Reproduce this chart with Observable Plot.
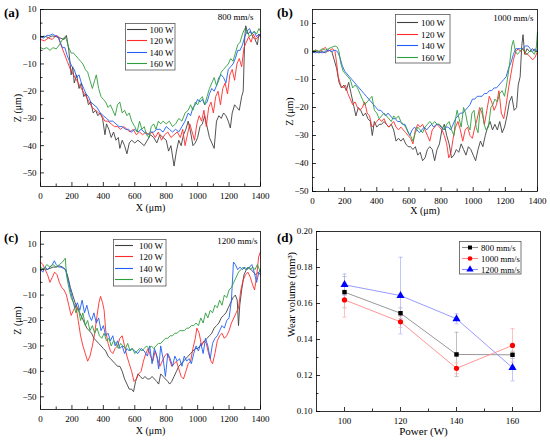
<!DOCTYPE html>
<html>
<head>
<meta charset="utf-8">
<script src="https://cdn.jsdelivr.net/npm/d3@7"></script>
<script src="https://cdn.jsdelivr.net/npm/@observablehq/plot@0.6"></script>
<style>
  body { margin: 0; background: #fff; }
  #fig { position: relative; width: 550px; height: 445px; background: #fff; font-family: 'Liberation Serif', 'Times New Roman', serif; overflow: hidden; }
  .panel { position: absolute; }
  .tag { position: absolute; font-weight: bold; font-size: 13px; line-height: 1; }
  .leg { position: absolute; }
</style>
</head>
<body>
<div id="fig">
  <div class="panel" id="pa" style="left:0;top:0"></div>
  <div class="panel" id="pb" style="left:275px;top:0"></div>
  <div class="panel" id="pc" style="left:0;top:222px"></div>
  <div class="panel" id="pd" style="left:275px;top:222px"></div>
  <div class="tag" style="left:4px;top:6px">(a)</div>
  <div class="tag" style="left:277px;top:6px">(b)</div>
  <div class="tag" style="left:4px;top:231px">(c)</div>
  <div class="tag" style="left:277px;top:231px">(d)</div>
</div>
<script>
// ---------- data ----------
const powerLabels = ["100 W", "120 W", "140 W", "160 W"];
const xMajor = [0, 200, 400, 600, 800, 1000, 1200, 1400];
const xMinor = [100, 300, 500, 700, 900, 1100, 1300];
const zMajor = [-50, -40, -30, -20, -10, 0, 10];
const zMinor = [-55, -45, -35, -25, -15, -5, 5, 15];

// (a) 800 mm/s  [X µm, Z µm]
const a100 = [[0,0],[25,0.2],[50,-0.3],[75,0.3],[100,0],[125,-0.5],[150,-1],[165,0.5],[180,-5],[195,-14],[205,-11],[215,-17],[230,-14],[245,-19],[260,-17],[275,-22],[290,-21],[305,-25],[320,-24],[335,-28],[350,-27],[365,-29],[380,-28],[395,-30],[410,-36],[420,-32],[435,-34],[450,-37],[465,-35],[480,-38],[495,-37],[505,-41],[520,-38],[535,-40],[550,-43],[565,-39],[580,-38],[600,-39],[620,-38],[640,-39],[660,-40],[680,-38],[700,-36],[720,-37],[740,-39],[760,-36],[780,-37],[800,-38],[815,-42],[830,-40],[850,-47.5],[865,-42],[880,-38],[895,-40],[910,-36],[925,-34],[940,-31],[955,-35],[970,-40],[985,-39],[1000,-37],[1015,-33],[1030,-32],[1045,-29],[1060,-33],[1075,-37],[1090,-39],[1105,-41],[1120,-31],[1135,-29],[1150,-30],[1165,-28],[1180,-29],[1195,-31],[1208,-33.5],[1220,-28],[1235,-25],[1250,-26],[1265,-27],[1280,-22],[1290,-20],[1300,0],[1306,4],[1320,1],[1335,2],[1350,0],[1365,-1],[1380,-3],[1390,1],[1400,0]];
const a120 = [[0,-1],[25,-1.5],[50,-0.5],[75,-1],[100,0.5],[115,0],[130,-3],[150,-6],[170,-9],[190,-12],[210,-14],[230,-16],[250,-18],[270,-20],[290,-22],[310,-24],[330,-26],[350,-27],[370,-28],[390,-29],[410,-31],[430,-31],[450,-32],[470,-33],[490,-33],[510,-34],[530,-33],[550,-34],[570,-35],[590,-34],[610,-36],[630,-35],[650,-36],[670,-35],[690,-36],[710,-35],[730,-37],[750,-35],[770,-38],[790,-36],[810,-35],[830,-37],[850,-36],[870,-35],[890,-37],[905,-34],[920,-40],[935,-36],[950,-32],[965,-35],[980,-38],[995,-32],[1010,-29],[1025,-31],[1040,-27],[1055,-33],[1070,-26],[1085,-24],[1100,-28],[1115,-22],[1130,-20],[1145,-25],[1160,-19],[1175,-17],[1190,-21],[1205,-14],[1220,-12],[1235,-16],[1250,-10],[1265,-8],[1280,-11],[1295,-4],[1310,-2],[1325,0],[1340,-2],[1355,1],[1370,-1],[1385,0],[1400,1]];
const a140 = [[0,0],[20,-0.5],[40,0.5],[60,0.5],[75,1],[90,0.5],[110,0],[125,-2],[140,-4],[155,-4],[170,-7],[185,-9],[200,-11],[215,-12],[230,-15],[245,-14],[260,-17],[275,-19],[290,-21],[305,-22],[320,-24],[340,-25],[360,-26],[380,-28],[400,-29],[420,-30],[440,-31],[460,-31],[480,-32],[500,-33],[520,-33],[540,-34],[560,-34],[580,-35],[600,-34],[620,-35],[640,-34],[660,-35],[680,-36],[700,-35],[720,-35],[740,-34],[760,-34],[780,-35],[800,-33],[820,-34],[840,-35],[860,-34],[880,-35],[900,-33],[920,-31],[940,-28],[955,-29],[970,-26],[985,-25],[1000,-23],[1015,-24],[1030,-23],[1045,-25],[1060,-24],[1075,-21],[1090,-19],[1105,-20],[1120,-18],[1135,-15],[1150,-14],[1165,-15],[1180,-17],[1195,-12],[1210,-11],[1225,-10],[1240,-8],[1255,-5],[1270,-5],[1285,-3],[1300,0],[1315,2],[1330,3],[1345,1],[1360,2],[1375,0],[1390,1],[1400,0]];
const a160 = [[0,-4],[20,-4.5],[40,-4],[60,-5],[80,-4],[100,-4.5],[120,-3],[140,-1],[155,0],[165,-1],[180,-4],[195,-6],[210,-6],[225,-7],[240,-8],[255,-9],[270,-10],[285,-12],[300,-13],[315,-16],[330,-19],[345,-16],[355,-14],[370,-19],[385,-22],[400,-23],[415,-24],[430,-26],[445,-25],[460,-27],[475,-29],[490,-25],[505,-24],[520,-28],[535,-27],[550,-29],[565,-28],[580,-31],[600,-33],[615,-35],[630,-31],[645,-34],[660,-33],[675,-36],[690,-37],[705,-33],[720,-32],[735,-34],[750,-31],[765,-32],[780,-31],[800,-32],[820,-31],[840,-33],[860,-32],[880,-30],[900,-31],[920,-28],[940,-27],[955,-25],[970,-27],[985,-24],[1000,-25],[1015,-23],[1030,-22],[1045,-25],[1060,-22],[1075,-19],[1090,-17],[1105,-15],[1120,-18],[1135,-16],[1150,-13],[1165,-12],[1180,-11],[1195,-10],[1210,-8],[1225,-9],[1240,-6],[1255,-3],[1270,-2],[1285,1],[1300,3],[1315,2],[1330,0],[1345,1],[1360,2],[1375,1],[1390,3],[1400,2]];

// (b) 1000 mm/s
const b100 = [[0,-0.5],[20,0],[40,-0.5],[60,0],[80,-0.5],[100,0.5],[120,0],[135,-3],[150,-6],[165,-11],[180,-13],[195,-12],[210,-14],[225,-11],[240,-15],[255,-19],[270,-23],[285,-20],[300,-21],[315,-23],[330,-22],[345,-24],[360,-25],[372,-30],[385,-25],[400,-27],[415,-26],[430,-26],[445,-25],[460,-26],[475,-27],[490,-26],[505,-28],[520,-32],[535,-31],[550,-32],[565,-31],[580,-33],[595,-34],[610,-34],[625,-35],[640,-34],[655,-37],[670,-36],[685,-39],[700,-38],[715,-35],[730,-34],[745,-35],[760,-39],[775,-35],[790,-33],[805,-28],[820,-26],[835,-30],[850,-33],[865,-38],[880,-37],[895,-35],[910,-36],[925,-33],[940,-35],[955,-37],[970,-34],[985,-35],[1000,-37],[1015,-39],[1030,-35],[1045,-32],[1060,-34],[1075,-30],[1090,-27],[1105,-25],[1120,-28],[1135,-26],[1150,-28],[1165,-25],[1180,-29],[1195,-27],[1210,-23],[1225,-18],[1240,-16],[1255,-21],[1270,-20],[1280,-12],[1292,-9],[1302,2],[1310,6],[1320,-1],[1335,1],[1350,0],[1370,1],[1385,0],[1400,0]];
const b120 = [[0,0],[20,0.5],[40,0],[60,0.5],[80,1.5],[95,0],[110,0.5],[125,1],[140,0],[150,-4],[160,-9],[175,-12],[190,-13],[205,-12],[220,-15],[235,-17],[250,-19],[265,-18],[280,-20],[295,-21],[310,-20],[325,-18],[340,-22],[355,-23],[370,-27],[385,-26],[400,-25],[415,-24],[430,-25],[445,-24],[460,-26],[475,-27],[490,-26],[505,-25],[520,-27],[535,-28],[550,-27],[565,-28],[580,-29],[595,-30],[610,-31],[625,-33],[640,-28],[655,-26],[670,-27],[685,-26],[700,-28],[715,-30],[730,-32],[745,-28],[760,-27],[775,-26],[790,-27],[805,-28],[820,-30],[835,-33],[848,-38],[862,-36],[875,-31],[890,-27],[905,-25],[920,-28],[935,-32],[950,-28],[965,-27],[980,-30],[995,-31],[1010,-27],[1025,-24],[1040,-20],[1055,-22],[1070,-26],[1085,-21],[1100,-16],[1115,-18],[1130,-21],[1145,-19],[1160,-14],[1175,-22],[1190,-24],[1205,-19],[1220,-13],[1235,-8],[1250,-3],[1265,0],[1280,1],[1295,0],[1310,1],[1325,-1],[1340,-1],[1355,-2],[1370,-3],[1385,-2],[1400,0]];
const b140 = [[0,0],[20,-0.5],[40,0],[60,-0.5],[80,0],[100,0.5],[120,0],[140,0.5],[155,0],[170,-2],[185,-5],[200,-7],[215,-8],[230,-9],[245,-10],[260,-11],[275,-12],[290,-13],[305,-14],[320,-15],[335,-16],[350,-17],[365,-18],[380,-19],[395,-20],[410,-21],[425,-21],[440,-22],[455,-23],[470,-22],[485,-23],[500,-24],[515,-24],[530,-25],[545,-25],[560,-26],[575,-26],[590,-28],[605,-30],[620,-28],[635,-27],[650,-28],[665,-29],[680,-28],[695,-27],[710,-28],[725,-27],[740,-26],[755,-27],[770,-26],[785,-26],[800,-27],[815,-28],[830,-27],[845,-27],[860,-28],[875,-26],[890,-24],[905,-23],[920,-22],[935,-22],[950,-21],[965,-20],[980,-19],[995,-17],[1010,-17],[1025,-16],[1040,-16],[1055,-16],[1070,-15],[1085,-15],[1100,-14],[1115,-14],[1130,-13],[1145,-13],[1160,-12],[1175,-11],[1190,-10],[1205,-9],[1220,-6],[1235,-4],[1250,-1],[1265,1],[1280,1],[1295,1],[1310,1],[1325,2],[1340,2],[1355,1],[1370,0],[1385,1],[1400,0]];
const b160 = [[0,0],[20,0.5],[40,0],[60,1],[80,0.5],[100,1],[120,1.5],[140,2],[155,1.5],[165,0],[175,-4],[190,-7],[205,-8],[220,-9],[235,-10],[250,-13],[265,-12],[280,-13],[295,-15],[310,-17],[325,-19],[340,-18],[355,-17],[370,-16],[385,-21],[400,-22],[415,-24],[430,-23],[445,-22],[460,-23],[475,-24],[490,-25],[505,-23],[520,-24],[535,-23],[550,-25],[565,-26],[580,-27],[595,-29],[610,-30],[625,-32],[640,-29],[655,-27],[670,-28],[685,-29],[700,-27],[715,-26],[730,-25],[745,-26],[760,-25],[775,-26],[790,-26],[805,-27],[820,-28],[835,-26],[850,-25],[865,-28],[880,-30],[890,-24],[900,-21],[912,-24],[925,-27],[940,-20],[952,-22],[965,-26],[980,-28],[992,-22],[1005,-21],[1018,-27],[1030,-29],[1042,-21],[1055,-20],[1068,-26],[1080,-28],[1095,-27],[1110,-20],[1122,-19],[1135,-17],[1150,-18],[1165,-15],[1180,-14],[1195,-16],[1210,-11],[1225,-5],[1240,2],[1250,4],[1262,0],[1275,-1],[1290,0],[1305,1],[1320,0],[1335,-1],[1350,0],[1365,0],[1380,-1],[1392,1],[1400,7]];

// (c) 1200 mm/s
const c100 = [[0,0],[20,0.5],[40,0],[60,0.5],[80,1],[100,1],[120,1.5],[140,1],[160,0],[175,-3],[190,-7],[205,-10],[220,-13],[235,-15],[250,-17],[265,-19],[280,-21],[295,-23],[310,-24],[325,-25],[340,-27],[355,-28],[370,-29],[385,-30],[400,-31],[415,-32],[430,-34],[445,-35],[460,-36],[475,-37],[490,-38],[505,-38],[520,-40],[535,-43],[550,-45],[565,-47],[580,-47],[592,-48],[605,-44],[620,-41],[635,-42],[650,-43],[665,-42],[680,-43],[695,-43],[710,-42],[725,-43],[740,-44],[752,-45],[765,-41],[780,-42],[795,-43],[810,-44],[822,-45],[835,-44],[850,-42],[865,-40],[880,-38],[895,-37],[910,-36],[925,-35],[940,-34],[955,-33],[970,-32],[985,-31],[1000,-31],[1015,-30],[1030,-29],[1045,-28],[1060,-27],[1075,-26],[1090,-25],[1105,-23],[1120,-22],[1135,-21],[1150,-19],[1165,-18],[1180,-17],[1195,-15],[1210,-13],[1225,-11],[1240,-10],[1252,-12],[1260,-22],[1268,-14],[1280,-8],[1295,-2],[1310,0],[1325,1],[1340,0],[1355,-1],[1370,-2],[1385,-1],[1400,-2]];
const c120 = [[0,3],[15,2],[30,0],[45,-2],[60,-5],[75,-3],[90,-1],[105,-2],[120,-5],[135,-7],[150,-8],[165,-10],[180,-14],[195,-18],[210,-16],[225,-14],[240,-20],[255,-26],[270,-30],[285,-33],[300,-36],[315,-34],[330,-30],[345,-25],[360,-18],[372,-13],[382,-10.5],[395,-13],[405,-16],[415,-24],[430,-29],[445,-32],[460,-33],[475,-31],[490,-30],[505,-27],[520,-26],[535,-30],[550,-34],[565,-37],[580,-40],[595,-44],[610,-43],[625,-41],[640,-40],[655,-36],[670,-33],[685,-31],[700,-34],[715,-36],[730,-32],[745,-35],[760,-38],[775,-36],[790,-34],[805,-33],[820,-35],[835,-38],[850,-37],[865,-36],[880,-39],[895,-42],[910,-43],[925,-40],[940,-37],[955,-36],[970,-31],[985,-27],[995,-23],[1010,-25],[1025,-30],[1040,-28],[1055,-29],[1070,-33],[1085,-36],[1095,-37],[1110,-33],[1125,-28],[1140,-26],[1155,-25],[1170,-27],[1185,-26],[1200,-24],[1215,-21],[1230,-19],[1245,-17],[1260,-15],[1275,-8],[1290,-4],[1305,-2],[1320,-1],[1335,-3],[1350,-6],[1362,-8],[1375,-3],[1388,5],[1400,7]];
const c140 = [[0,0],[15,-1],[30,1],[45,0],[60,1],[75,2],[88,3.5],[100,2],[115,1],[130,1],[145,0.5],[160,0],[175,-4],[190,-8],[205,-12],[220,-15],[235,-13],[250,-16],[265,-12],[280,-17],[295,-14],[310,-18],[325,-20],[340,-17],[355,-21],[370,-19],[385,-24],[400,-22],[415,-26],[430,-25],[445,-28],[460,-26],[475,-30],[490,-28],[505,-31],[520,-30],[535,-33],[550,-31],[565,-32],[580,-31],[600,-32],[620,-33],[640,-31],[660,-32],[680,-34],[695,-30],[710,-37],[725,-31],[740,-34],[752,-39],[765,-30],[780,-35],[795,-42],[810,-33],[825,-35],[840,-38],[855,-34],[870,-36],[885,-35],[900,-38],[915,-34],[930,-36],[945,-35],[960,-37],[975,-33],[990,-30],[1005,-32],[1020,-29],[1035,-33],[1050,-27],[1065,-30],[1080,-35],[1095,-29],[1110,-27],[1125,-26],[1140,-24],[1155,-22],[1170,-23],[1185,-20],[1200,-19],[1215,-12],[1228,3],[1240,2],[1255,0],[1270,1],[1285,0],[1300,1],[1315,0],[1330,1],[1345,2],[1360,-1],[1375,-5],[1390,-1],[1400,0]];
const c160 = [[0,1],[20,0],[40,2],[60,1],[80,2],[100,1],[120,2],[140,3],[158,4.5],[165,-2],[180,-7],[195,-11],[210,-13],[225,-17],[240,-15],[255,-20],[270,-17],[285,-22],[300,-20],[315,-24],[330,-22],[345,-25],[360,-23],[375,-26],[390,-27],[405,-25],[420,-28],[435,-27],[450,-30],[465,-28],[480,-29],[495,-31],[510,-29],[525,-30],[540,-31],[555,-29],[570,-32],[585,-31],[600,-33],[615,-32],[630,-31],[645,-32],[660,-31],[675,-30],[690,-31],[705,-30],[720,-31],[735,-30],[750,-29],[765,-29],[780,-28],[795,-27],[810,-27],[825,-26],[840,-26],[855,-25],[870,-25],[885,-24],[900,-24],[915,-24],[930,-23],[945,-23],[960,-22],[975,-22],[990,-21],[1005,-22],[1020,-19],[1035,-21],[1050,-17],[1065,-19],[1080,-16],[1095,-17],[1110,-14],[1125,-15],[1140,-12],[1155,-14],[1170,-10],[1185,-11],[1200,-8],[1215,-7],[1230,-5],[1245,-3],[1260,-1],[1275,0],[1290,1],[1305,0],[1320,1],[1335,0],[1350,1],[1365,0],[1380,2],[1400,-1]];

// (d) wear volume
const power = [100, 120, 140, 160];
const speedLabels = ["800 mm/s", "1000 mm/s", "1200 mm/s"];
const wear800 = [0.1663, 0.1546, 0.1317, 0.1315];
const err800 = [0.0087, 0.003, 0.0123, 0.002];
const wear1000 = [0.162, 0.1498, 0.124, 0.1367];
const err1000 = [0.0096, 0.003, 0.003, 0.0093];
const wear1200 = [0.1704, 0.1644, 0.1515, 0.1243];
const err1200 = [0.006, 0.0213, 0.0028, 0.0073];
const powerMajor = [100, 120, 140, 160];
const powerMinor = [110, 130, 150];
const wearMajor = [0.10, 0.12, 0.14, 0.16, 0.18, 0.20];
const wearMinor = [0.11, 0.13, 0.15, 0.17, 0.19];

// ---------- styles ----------
const lineColors = ["#404040", "#ff2b2b", "#1f5ff5", "#2f9e3c"];
const FONT = "'Liberation Serif', 'Times New Roman', serif";

function profilePlot(series, o) {
  const fh = o.height - o.mT - o.mB, fw = o.width - o.mL - o.mR;
  return Plot.plot({
    width: o.width, height: o.height,
    marginLeft: o.mL, marginRight: o.mR, marginTop: o.mT, marginBottom: o.mB,
    x: {domain: [0, 1400]},
    y: {domain: o.yDomain},
    style: {fontFamily: FONT, fontSize: "9px", background: "transparent", color: "#000", overflow: "visible"},
    marks: [
      ...series.map((s, i) => Plot.line(s, {stroke: lineColors[i], strokeWidth: 0.9})),
      Plot.frame({stroke: "#000", strokeWidth: 0.8}),
      Plot.tickX(xMajor, {insetTop: fh - 4, stroke: "#000", strokeWidth: 0.8}),
      Plot.tickX(xMinor, {insetTop: fh - 2.5, stroke: "#000", strokeWidth: 0.8}),
      Plot.tickY(zMajor, {insetRight: fw - 4, stroke: "#000", strokeWidth: 0.8}),
      Plot.tickY(zMinor.filter(v => v > o.yDomain[0] && v < o.yDomain[1]), {insetRight: fw - 2.5, stroke: "#000", strokeWidth: 0.8}),
      Plot.axisX({ticks: xMajor, tickSize: 0, tickPadding: 6, label: null, tickFormat: d => String(d), fontSize: 9}),
      Plot.axisY({ticks: zMajor, tickSize: 0, tickPadding: 4, label: null, fontSize: 9}),
      Plot.text(["X (μm)"], {text: d => d, frameAnchor: "bottom", textAnchor: "middle", dy: o.xlDy, fontSize: 10}),
      Plot.text(["Z (μm)"], {text: d => d, frameAnchor: "left", textAnchor: "middle", dx: -23, dy: o.ylDy, rotate: -90, fontSize: 10}),
      Plot.text([o.speed], {text: d => d, frameAnchor: "top-right", textAnchor: "end", lineAnchor: "top", dx: o.sdx, dy: o.sdy, fontSize: 9})
    ]
  });
}

document.getElementById("pa").append(profilePlot([a100, a120, a140, a160],
  {width: 275, height: 222, mL: 40, mR: 15, mT: 9, mB: 36, yDomain: [-55, 10], xlDy: 24, ylDy: 10, speed: "800 mm/s", sdx: -7, sdy: 4}));
document.getElementById("pb").append(profilePlot([b100, b120, b140, b160],
  {width: 275, height: 222, mL: 37, mR: 13, mT: 9, mB: 31, yDomain: [-50, 15], xlDy: 22, ylDy: 11, speed: "1000 mm/s", sdx: -4, sdy: 5}));
document.getElementById("pc").append(profilePlot([c100, c120, c140, c160],
  {width: 275, height: 223, mL: 40, mR: 15, mT: 9, mB: 36, yDomain: [-55, 15], xlDy: 24, ylDy: 0, speed: "1200 mm/s", sdx: -3, sdy: 6}));

// (d)
const capSymbol = {draw(ctx, size) { const r = Math.sqrt(size / Math.PI); ctx.moveTo(-r, 0); ctx.lineTo(r, 0); }};
const wearSeries = [
  {label: speedLabels[0], v: wear800, e: err800, line: "#8c8c8c", err: "#b0b0b0", fill: "#000000", symbol: "square", r: 2.5},
  {label: speedLabels[1], v: wear1000, e: err1000, line: "#ff8a8a", err: "#ffb0b0", fill: "#ff0000", symbol: "circle", r: 2.6},
  {label: speedLabels[2], v: wear1200, e: err1200, line: "#8f8fff", err: "#b4b4ff", fill: "#0000ff", symbol: "triangle", r: 3.0}
];
const wearRows = wearSeries.map(s => power.map((p, i) => ({p, v: s.v[i], e: s.e[i]})));
{
  const o = {width: 275, height: 223, mL: 41, mR: 10, mT: 9, mB: 34};
  const fh = o.height - o.mT - o.mB, fw = o.width - o.mL - o.mR;
  const marks = [];
  wearSeries.forEach((s, k) => {
    const rows = wearRows[k];
    marks.push(Plot.ruleX(rows, {x: "p", y1: d => d.v - d.e, y2: d => d.v + d.e, stroke: s.err, strokeWidth: 0.8}));
    marks.push(Plot.dot(rows, {x: "p", y: d => d.v + d.e, symbol: capSymbol, r: 2, stroke: s.err, strokeWidth: 0.8}));
    marks.push(Plot.dot(rows, {x: "p", y: d => d.v - d.e, symbol: capSymbol, r: 2, stroke: s.err, strokeWidth: 0.8}));
    marks.push(Plot.line(rows, {x: "p", y: "v", stroke: s.line, strokeWidth: 0.9}));
  });
  wearSeries.forEach((s, k) => {
    marks.push(Plot.dot(wearRows[k], {x: "p", y: "v", symbol: s.symbol, r: s.r, fill: s.fill, stroke: "none"}));
  });
  marks.push(
    Plot.frame({stroke: "#000", strokeWidth: 0.8}),
    Plot.tickX(powerMajor, {insetTop: fh - 4, stroke: "#000", strokeWidth: 0.8}),
    Plot.tickX(powerMinor, {insetTop: fh - 2.5, stroke: "#000", strokeWidth: 0.8}),
    Plot.tickY(wearMajor, {insetRight: fw - 4, stroke: "#000", strokeWidth: 0.8}),
    Plot.tickY(wearMinor, {insetRight: fw - 2.5, stroke: "#000", strokeWidth: 0.8}),
    Plot.axisX({ticks: powerMajor, tickSize: 0, tickPadding: 6, label: null, tickFormat: d => String(d), fontSize: 9}),
    Plot.axisY({ticks: wearMajor, tickSize: 0, tickPadding: 4, label: null, tickFormat: d3.format(".2f"), fontSize: 9}),
    Plot.text(["Power (W)"], {text: d => d, frameAnchor: "bottom", textAnchor: "middle", dx: -5, dy: 23, fontSize: 11}),
    Plot.text(["Wear volume (mm³)"], {text: d => d, frameAnchor: "left", textAnchor: "middle", dx: -25, dy: -27, rotate: -90, fontSize: 10.5})
  );
  document.getElementById("pd").append(Plot.plot({
    width: o.width, height: o.height,
    marginLeft: o.mL, marginRight: o.mR, marginTop: o.mT, marginBottom: o.mB,
    x: {domain: [90, 170]},
    y: {domain: [0.10, 0.20]},
    style: {fontFamily: FONT, fontSize: "9px", background: "transparent", color: "#000", overflow: "visible"},
    marks
  }));
}

// ---------- legends (HTML/SVG overlays) ----------
const fig = document.getElementById("fig");
function legend(cfg) {
  const svg = d3.create("svg").attr("class", "leg")
    .attr("width", cfg.w + 1).attr("height", cfg.h + 1)
    .style("left", cfg.left + "px").style("top", cfg.top + "px")
    .style("font-family", FONT).style("font-size", cfg.fs + "px");
  svg.append("rect").attr("x", 0.5).attr("y", 0.5).attr("width", cfg.w - 0.5).attr("height", cfg.h - 0.5)
    .attr("fill", "#fff").attr("stroke", "#555").attr("stroke-width", 0.8);
  cfg.items.forEach((it, i) => {
    const y = Math.round(cfg.y0 + i * cfg.dy) + 0.5;
    svg.append("line").attr("x1", cfg.l1).attr("x2", cfg.l2).attr("y1", y).attr("y2", y)
      .attr("stroke", it.color).attr("stroke-width", 1.1);
    if (it.symbol) {
      const cx = (cfg.l1 + cfg.l2) / 2;
      svg.append("path").attr("transform", `translate(${cx},${y})`)
        .attr("d", d3.symbol(it.symbol === "square" ? d3.symbolSquare : it.symbol === "circle" ? d3.symbolCircle : d3.symbolTriangle, it.r * it.r * Math.PI)())
        .attr("fill", it.fill);
    }
    svg.append("text").attr("x", cfg.tx).attr("y", y).attr("dy", "0.35em")
      .attr("text-anchor", cfg.anchor || "start").text(it.label);
  });
  fig.append(svg.node());
}
const profItems = powerLabels.map((l, i) => ({label: l, color: lineColors[i]}));
legend({left: 125, top: 23, w: 50, h: 47, y0: 6, dy: 11.3, l1: 2, l2: 22, tx: 24.5, fs: 9, items: profItems});
legend({left: 395, top: 14, w: 55, h: 49, y0: 8, dy: 11.5, l1: 2, l2: 23, tx: 26, fs: 9, items: profItems});
legend({left: 113, top: 239, w: 53, h: 47, y0: 6, dy: 11.3, l1: 2, l2: 20, tx: 50, anchor: "end", fs: 9, items: profItems});
legend({left: 459, top: 241, w: 62, h: 33, y0: 6, dy: 10.8, l1: 3, l2: 19, tx: 22, fs: 8.7,
  items: wearSeries.map(s => ({label: s.label, color: s.line, symbol: s.symbol, fill: s.fill, r: s.r * 0.9}))});
</script>
</body>
</html>
